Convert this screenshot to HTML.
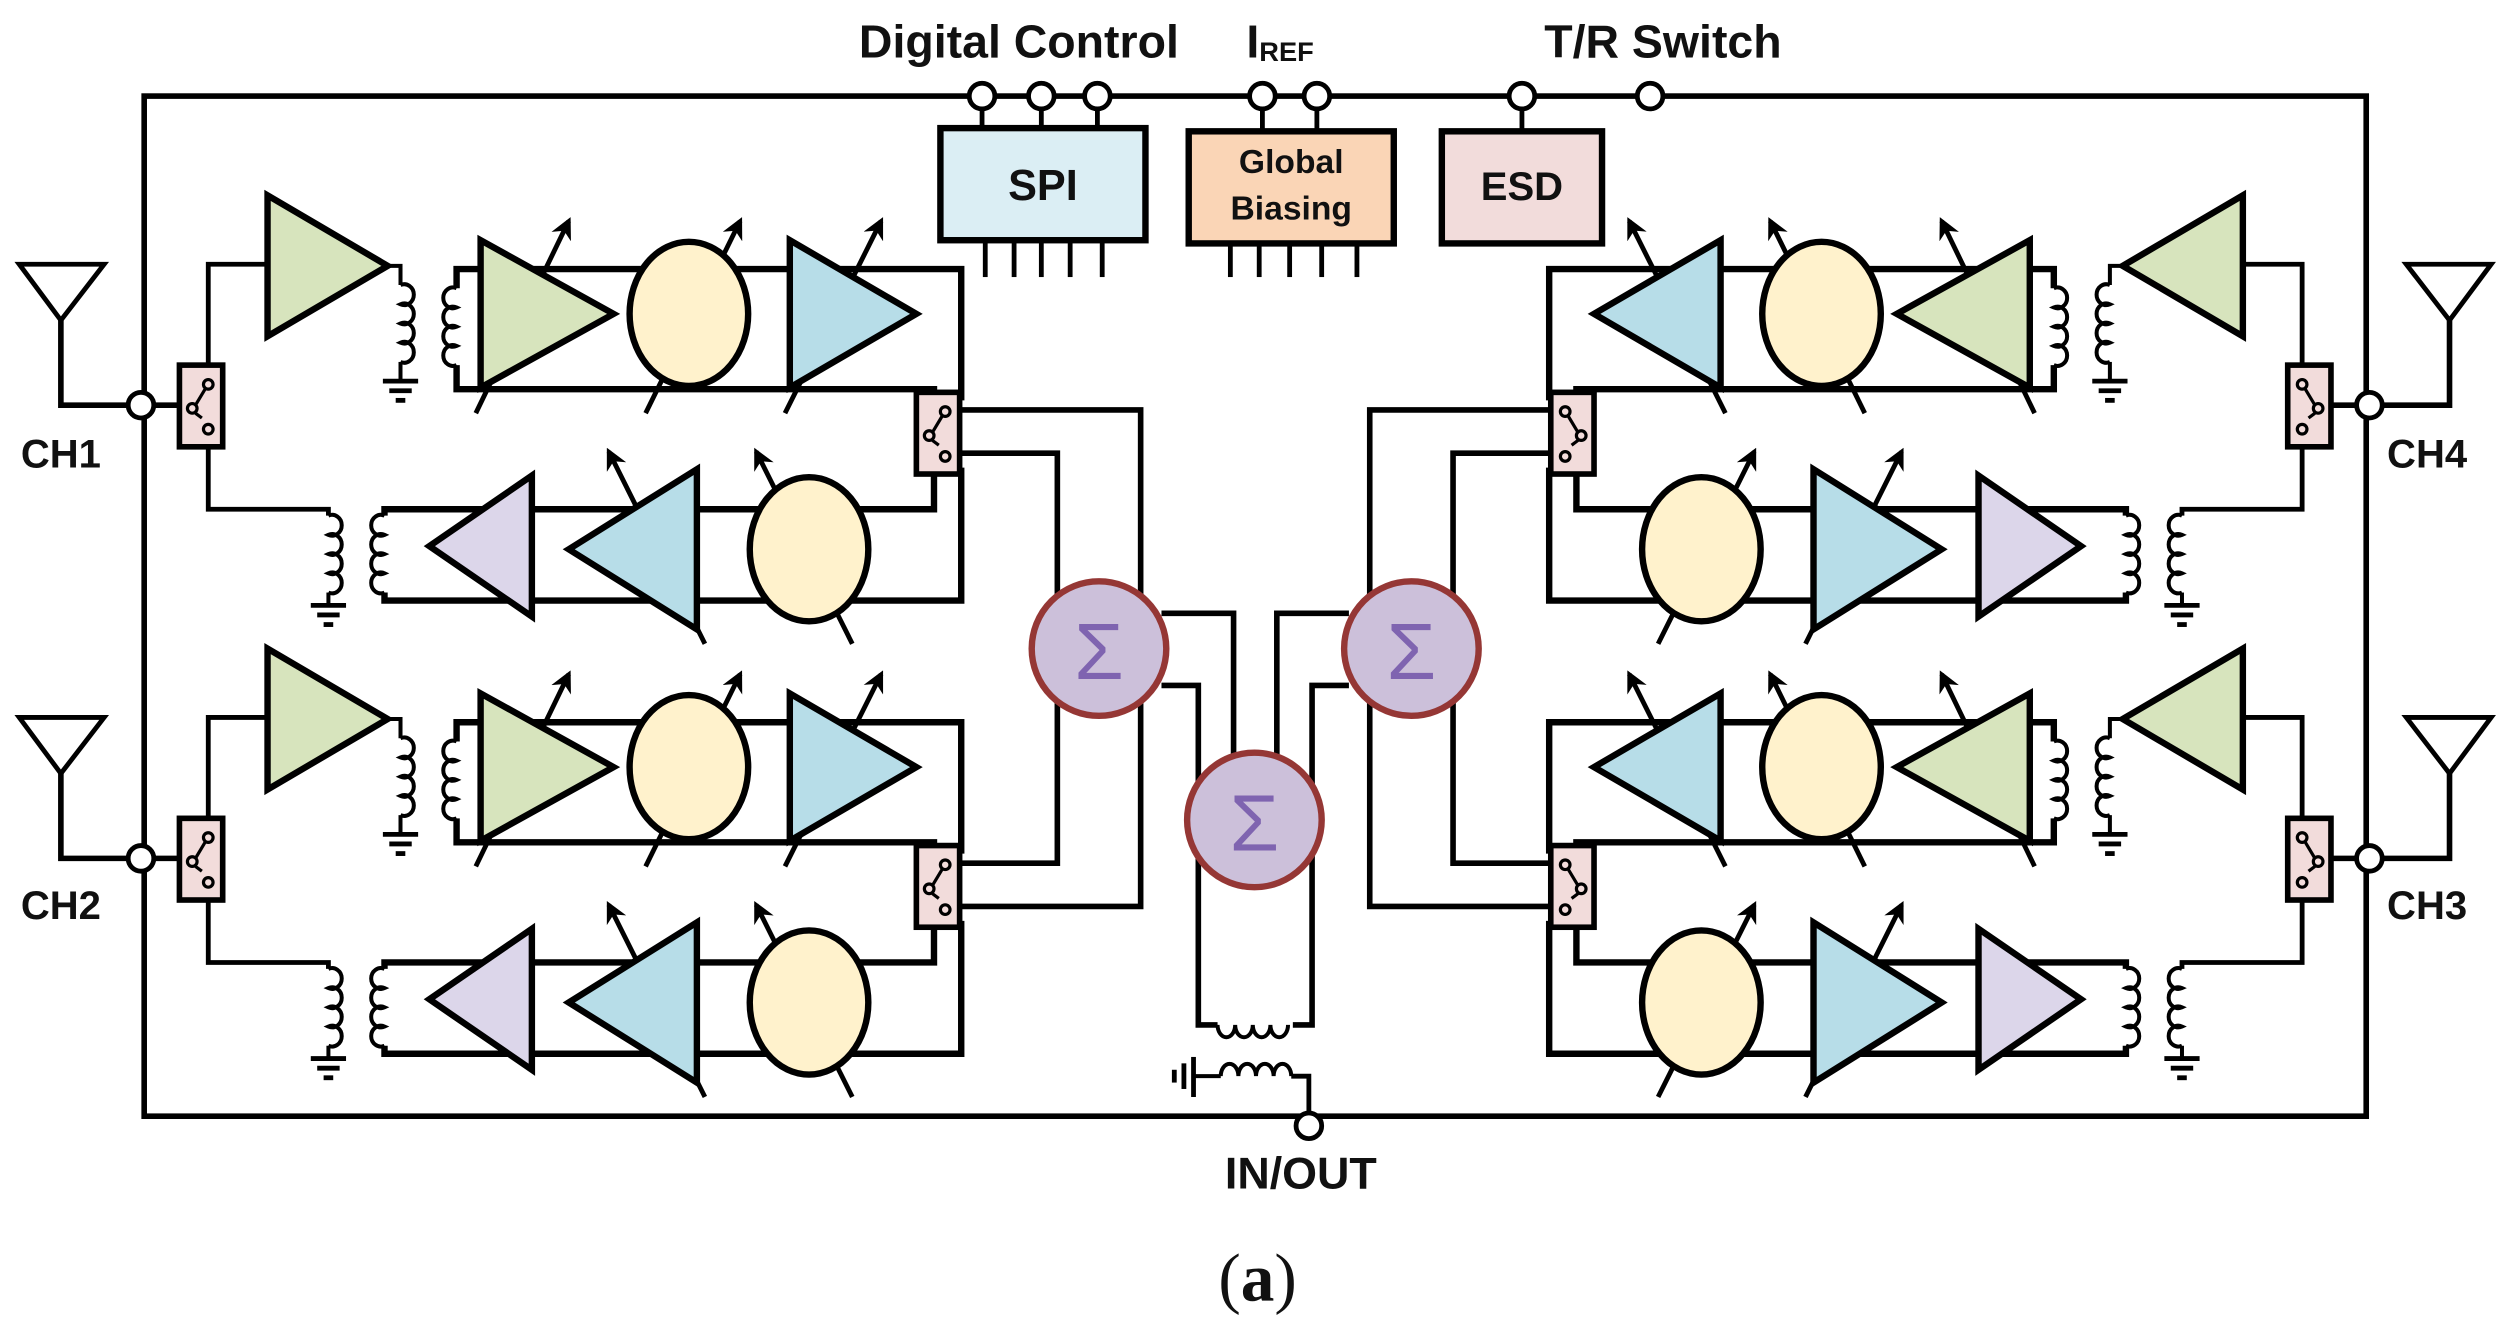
<!DOCTYPE html>
<html><head><meta charset="utf-8"><style>
html,body{margin:0;padding:0;background:#fff;}
svg{display:block;}
text{font-family:"Liberation Sans",sans-serif;font-weight:bold;fill:#111;}
</style></head><body>
<svg width="2512" height="1334" viewBox="0 0 1568 833" preserveAspectRatio="none" xmlns="http://www.w3.org/2000/svg">
<defs>
<marker id="ah" viewBox="0 0 10 10" refX="8" refY="5" markerWidth="4.5" markerHeight="4.5" orient="auto"><path d="M0,0 L10,5 L0,10 L3,5 z" fill="#000"/></marker>
<g id="gnd" stroke="#000" stroke-width="3"><line x1="-11" y1="0" x2="11" y2="0"/><line x1="-7" y1="6" x2="7" y2="6"/><line x1="-3" y1="12" x2="3" y2="12"/></g>
<path id="coil" d="M0,0 a6,6.5 0 1 1 0,12 a6,6.5 0 1 1 0,12 a6,6.5 0 1 1 0,12 a6,6.5 0 1 1 0,12" fill="none" stroke="#000" stroke-width="2.5"/>
<path id="coilL" d="M0,0 a6,6.5 0 1 0 0,12 a6,6.5 0 1 0 0,12 a6,6.5 0 1 0 0,12 a6,6.5 0 1 0 0,12" fill="none" stroke="#000" stroke-width="2.5"/>
<g id="sw">
<rect x="0" y="0" width="27" height="51" fill="#f2dcdb" stroke="#000" stroke-width="3.5"/>
<circle cx="8" cy="27" r="3" fill="none" stroke="#000" stroke-width="2"/>
<circle cx="18" cy="12" r="3" fill="none" stroke="#000" stroke-width="2"/>
<circle cx="18" cy="40" r="3" fill="none" stroke="#000" stroke-width="2"/>
<line x1="10" y1="25" x2="16" y2="15" stroke="#000" stroke-width="2"/>
<line x1="10" y1="30" x2="14" y2="33" stroke="#000" stroke-width="2"/>
</g>
<g id="ch" stroke="#000" fill="none">
<polygon points="12,165 65,165 38,200" stroke-width="3"/>
<polyline points="38,200 38,253 80,253" stroke-width="3.5"/>
<line x1="96" y1="253" x2="112" y2="253" stroke-width="3.5"/>
<polyline points="130,228 130,165 167,165" stroke-width="3"/>
<polyline points="242,166 250,166 250,178" stroke-width="2.5"/>
<use href="#coil" x="250" y="178"/>
<line x1="250" y1="226" x2="250" y2="238" stroke-width="2.5"/>
<use href="#gnd" x="250" y="238"/>
<use href="#coilL" x="285" y="180"/>
<polyline points="285,180 285,168 600,168 600,250" stroke-width="4"/>
<polyline points="285,228 285,243 583,243 583,248" stroke-width="4"/>
<line x1="297" y1="258" x2="355" y2="138" stroke-width="3" marker-end="url(#ah)"/>
<line x1="403" y1="258" x2="462" y2="138" stroke-width="3" marker-end="url(#ah)"/>
<line x1="490" y1="258" x2="550" y2="138" stroke-width="3" marker-end="url(#ah)"/>
<polygon points="167,122 167,210 242,166" fill="#d7e4bd" stroke-width="4"/>
<polygon points="300,150 300,242 383,196" fill="#d7e4bd" stroke-width="4"/>
<ellipse cx="430" cy="196" rx="37" ry="45" fill="#fff2cc" stroke-width="4"/>
<polygon points="493,150 493,242 572,196" fill="#b7dde8" stroke-width="4"/>
<polyline points="130,280 130,318 205,318 205,322" stroke-width="3"/>
<use href="#coil" x="205" y="322"/>
<line x1="205" y1="370" x2="205" y2="378" stroke-width="2.5"/>
<use href="#gnd" x="205" y="378"/>
<use href="#coilL" x="240" y="322"/>
<polyline points="240,322 240,318 583,318 583,295" stroke-width="4"/>
<polyline points="240,370 240,375 600,375 600,292" stroke-width="4"/>
<line x1="440" y1="402" x2="380" y2="282" stroke-width="3" marker-end="url(#ah)"/>
<line x1="532" y1="402" x2="472" y2="282" stroke-width="3" marker-end="url(#ah)"/>
<polygon points="268,341 332,297 332,385" fill="#dcd6ea" stroke-width="4"/>
<polygon points="355,343 435,293 435,393" fill="#b7dde8" stroke-width="4"/>
<ellipse cx="505" cy="343" rx="37" ry="45" fill="#fff2cc" stroke-width="4"/>
<use href="#sw" x="112" y="228"/>
<use href="#sw" x="572" y="245"/>
<circle cx="88" cy="253" r="8" fill="#fff" stroke-width="3"/>
</g>
<g id="half" stroke="#000" fill="none" stroke-width="3.5">
<polyline points="598,256 712,256 712,380"/>
<polyline points="598,283 660,283 660,380"/>
<polyline points="598,539 660,539 660,430"/>
<polyline points="598,566 712,566 712,430"/>
<polyline points="725,383 770,383 770,495"/>
<polyline points="725,428 748,428 748,640 760,640"/>
</g>
</defs>

<rect x="90" y="60" width="1387" height="637" fill="none" stroke="#000" stroke-width="3.5"/>

<use href="#ch"/>
<g transform="translate(0,283)"><use href="#ch"/></g>
<g transform="translate(1567,0) scale(-1,1)"><use href="#ch"/></g>
<g transform="translate(1567,283) scale(-1,1)"><use href="#ch"/></g>
<use href="#half"/>
<g transform="translate(1567,0) scale(-1,1)"><use href="#half"/></g>

<g fill="#ccc0da" stroke="#953735" stroke-width="4">
<ellipse cx="686" cy="405" rx="42" ry="42"/>
<ellipse cx="881" cy="405" rx="42" ry="42"/>
<ellipse cx="783" cy="512" rx="42" ry="42"/>
</g>
<g font-size="50" text-anchor="middle">
<text x="686" y="424" style="fill:#7f64b0;font-weight:normal">Σ</text>
<text x="881" y="424" style="fill:#7f64b0;font-weight:normal">Σ</text>
<text x="783" y="531" style="fill:#7f64b0;font-weight:normal">Σ</text>
</g>

<g stroke="#000" fill="none" stroke-width="2.5">
<path d="M760,640 a5,7 0 1 0 11,0 a5,7 0 1 0 11,0 a5,7 0 1 0 11,0 a5,7 0 1 0 11,0"/>
<path d="M762,672 a5,7 0 1 1 11,0 a5,7 0 1 1 11,0 a5,7 0 1 1 11,0 a5,7 0 1 1 11,0"/>
<polyline points="806,672 817,672 817,695" stroke-width="3"/>
<line x1="745" y1="672" x2="762" y2="672"/>
<line x1="745" y1="660" x2="745" y2="685" stroke-width="3"/>
<line x1="739" y1="664" x2="739" y2="680" stroke-width="3"/>
<line x1="733" y1="668" x2="733" y2="676" stroke-width="3"/>
</g>
<circle cx="817" cy="703" r="8" fill="#fff" stroke="#000" stroke-width="3"/>

<g stroke="#000" stroke-width="3">
<line x1="613" y1="66" x2="613" y2="80"/><line x1="650" y1="66" x2="650" y2="80"/><line x1="685" y1="66" x2="685" y2="80"/>
<line x1="788" y1="66" x2="788" y2="82"/><line x1="822" y1="66" x2="822" y2="82"/>
<line x1="950" y1="66" x2="950" y2="82"/>
<line x1="615" y1="150" x2="615" y2="173"/><line x1="633" y1="150" x2="633" y2="173"/><line x1="650" y1="150" x2="650" y2="173"/><line x1="668" y1="150" x2="668" y2="173"/><line x1="688" y1="150" x2="688" y2="173"/>
<line x1="768" y1="152" x2="768" y2="173"/><line x1="786" y1="152" x2="786" y2="173"/><line x1="805" y1="152" x2="805" y2="173"/><line x1="825" y1="152" x2="825" y2="173"/><line x1="847" y1="152" x2="847" y2="173"/>
</g>
<rect x="587" y="80" width="128" height="70" fill="#dbeef4" stroke="#000" stroke-width="4"/>
<rect x="742" y="82" width="128" height="70" fill="#fad5b6" stroke="#000" stroke-width="4"/>
<rect x="900" y="82" width="100" height="70" fill="#f2dcdb" stroke="#000" stroke-width="4"/>
<g fill="#fff" stroke="#000" stroke-width="3">
<circle cx="613" cy="60" r="8"/><circle cx="650" cy="60" r="8"/><circle cx="685" cy="60" r="8"/>
<circle cx="788" cy="60" r="8"/><circle cx="822" cy="60" r="8"/>
<circle cx="950" cy="60" r="8"/><circle cx="1030" cy="60" r="8"/>
</g>

<text x="636" y="36" font-size="29" text-anchor="middle">Digital Control</text>
<text x="778" y="36" font-size="29">I<tspan font-size="17" dy="2">REF</tspan></text>
<text x="1038" y="36" font-size="29" text-anchor="middle">T/R Switch</text>
<text x="651" y="125" font-size="27" text-anchor="middle">SPI</text>
<text x="806" y="108" font-size="21" text-anchor="middle">Global</text>
<text x="806" y="137" font-size="21" text-anchor="middle">Biasing</text>
<text x="950" y="125" font-size="25" text-anchor="middle">ESD</text>
<text x="13" y="292" font-size="25">CH1</text>
<text x="13" y="574" font-size="25">CH2</text>
<text x="1490" y="292" font-size="25">CH4</text>
<text x="1490" y="574" font-size="25">CH3</text>
<text x="812" y="742" font-size="28" text-anchor="middle">IN/OUT</text>
<text x="785" y="812" font-size="42" text-anchor="middle" style="font-family:'Liberation Serif',serif;font-weight:normal">(<tspan font-weight="bold">a</tspan>)</text>
</svg>
</body></html>
